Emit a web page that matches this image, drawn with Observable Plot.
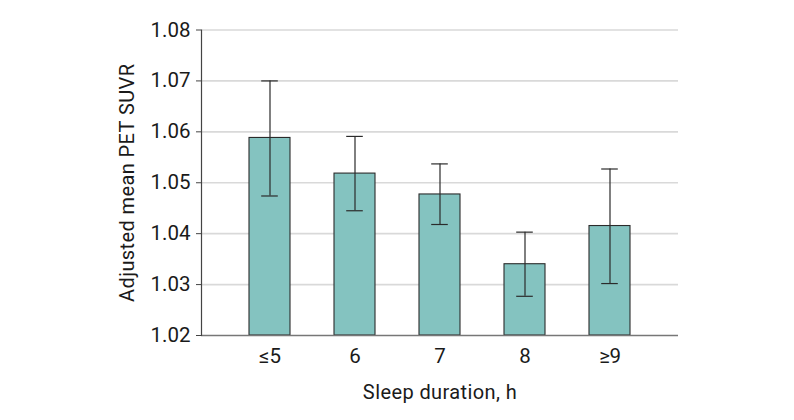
<!DOCTYPE html>
<html>
<head>
<meta charset="utf-8">
<script src="https://cdn.jsdelivr.net/npm/d3@7"></script>
<script src="https://cdn.jsdelivr.net/npm/@observablehq/plot@0.6"></script>
<style>
  html, body { margin: 0; padding: 0; background: #fff; }
  #chart svg { display: block; }
  #chart svg text { font-family: Roboto, "Noto Sans", sans-serif; fill: #1a1a1a; }
  #chart svg g.title text { letter-spacing: 0.4px; }
</style>
</head>
<body>
<div id="chart"></div>
<script>
const categories = ["≤5", "6", "7", "8", "≥9"];
const means = [1.0588, 1.0518, 1.0477, 1.0340, 1.0415];
const lower = [1.0474, 1.0445, 1.0418, 1.0277, 1.0302];
const upper = [1.0700, 1.0591, 1.0537, 1.0403, 1.0527];
const yDomain = [1.02, 1.08];
const yTicks = [1.02, 1.03, 1.04, 1.05, 1.06, 1.07, 1.08];
const xLabel = "Sleep duration, h";
const yLabel = "Adjusted mean PET SUVR";

const data = categories.map((c, i) => ({cat: c, mean: means[i], lo: lower[i], hi: upper[i]}));

const chart = Plot.plot({
  width: 794,
  height: 420,
  marginLeft: 201,
  marginRight: 116,
  marginTop: 29.5,
  marginBottom: 85,
  style: {background: "#fff"},
  x: {type: "band", domain: categories, paddingInner: 0.515, paddingOuter: 0.2575, insetLeft: 25, insetRight: 25, axis: null},
  y: {domain: yDomain},
  marks: [
    Plot.ruleY(yTicks.slice(1), {stroke: "#d9d9d9", strokeWidth: 1.6}),
    Plot.barY(data, {x: "cat", y1: () => yDomain[0], y2: "mean", fill: "#84c3c0", stroke: "#2b2b2b", strokeWidth: 1.1}),
    Plot.ruleX(data, {x: "cat", y1: "lo", y2: "hi", stroke: "#2b2b2b", strokeWidth: 1.2}),
    Plot.tickY(data, {x: "cat", y: "lo", stroke: "#2b2b2b", strokeWidth: 1.2, insetLeft: 12.2, insetRight: 12.2}),
    Plot.tickY(data, {x: "cat", y: "hi", stroke: "#2b2b2b", strokeWidth: 1.2, insetLeft: 12.2, insetRight: 12.2}),
    Plot.ruleY([yDomain[0]], {stroke: "#777", strokeWidth: 1.6}),
    Plot.axisY({ticks: yTicks, tickFormat: () => "", tickSize: 5, tickPadding: 0, stroke: "#444", label: null}),
    Plot.text(yTicks, {y: d => d, text: d3.format(".2f"), frameAnchor: "left", textAnchor: "end", lineAnchor: "middle", dx: -11, fontSize: 20.5}),
    Plot.text(categories, {x: d => d, text: d => d, frameAnchor: "bottom", textAnchor: "middle", lineAnchor: "top", dy: 13, fontSize: 20.5}),
    Plot.frame({anchor: "left", stroke: "#444", strokeWidth: 1.2}),
    Plot.text([yLabel], {text: d => d, frameAnchor: "left", textAnchor: "middle", rotate: -90, dx: -74, lineAnchor: "middle", fontSize: 20, className: "title"}),
    Plot.text([xLabel], {text: d => d, frameAnchor: "bottom", textAnchor: "middle", dy: 57, lineAnchor: "middle", fontSize: 20, className: "title"})
  ]
});
document.getElementById("chart").appendChild(chart);
</script>
</body>
</html>
